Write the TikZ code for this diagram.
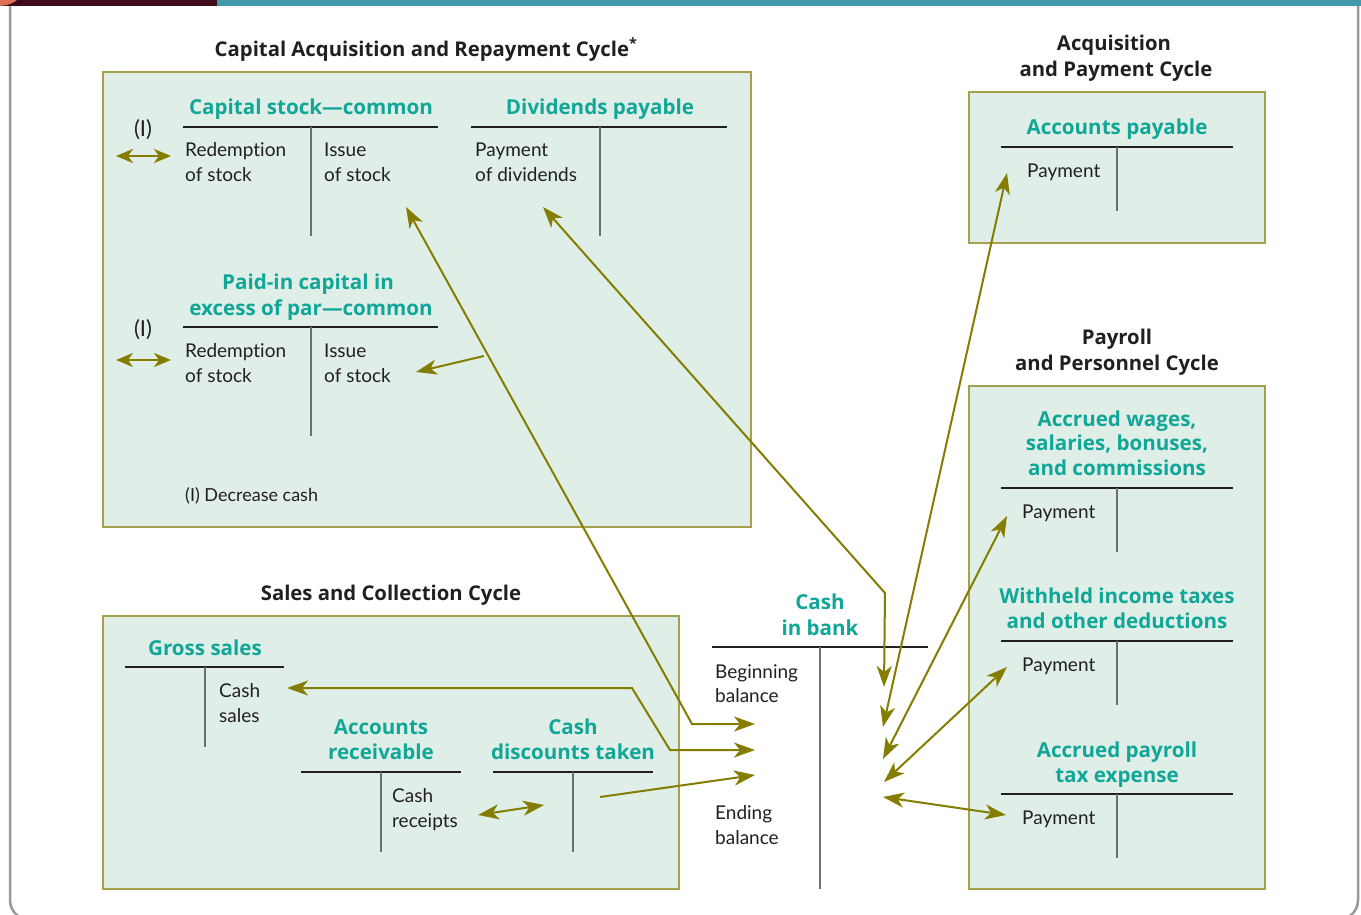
\documentclass[tikz,border=0pt]{standalone}
\usepackage{fontspec}
\setmainfont{Lato}[Ligatures=NoCommon]
\newfontfamily\headfont{Open Sans}[Ligatures=NoCommon]
\usetikzlibrary{arrows.meta}
\definecolor{boxfill}{RGB}{223,239,231}
\definecolor{boxline}{RGB}{166,160,76}
\definecolor{tealtxt}{RGB}{16,166,152}
\definecolor{arrowc}{RGB}{133,125,0}
\definecolor{darktxt}{RGB}{35,31,32}
\definecolor{tgray}{RGB}{109,110,113}
\definecolor{barmaroon}{RGB}{62,11,28}
\definecolor{barteal}{RGB}{66,153,170}
\definecolor{barorange}{RGB}{222,112,82}
\definecolor{framegray}{RGB}{152,152,158}
\tikzset{
  cyc/.style={fill=boxfill, draw=boxline, line width=1.6pt},
  hline/.style={draw=darktxt, line width=2.2pt},
  vline/.style={draw=tgray, line width=2pt},
  ttl/.style={font=\headfont\bfseries\fontsize{20.6}{24}\selectfont, text=tealtxt, anchor=base, inner sep=0pt},
  ctitle/.style={font=\headfont\bfseries\fontsize{20.3}{24}\selectfont, text=darktxt, anchor=base, inner sep=0pt},
  body/.style={font=\fontsize{19}{22}\selectfont, text=darktxt, anchor=base west, inner sep=0pt},
  bodyc/.style={font=\fontsize{22}{24}\selectfont, text=darktxt, anchor=base, inner sep=0pt},
  note/.style={font=\fontsize{18}{20}\selectfont, text=darktxt, anchor=base west, inner sep=0pt},
  flow/.style={draw=arrowc, line width=2pt, line join=miter},
  bigtip/.tip={Stealth[length=21pt,width=15pt,inset=6pt]},
  smalltip/.tip={Stealth[length=17pt,width=14pt,inset=5pt]},
}
\begin{document}
\begin{tikzpicture}[x=1pt,y=-1pt]
\useasboundingbox (0,0) rectangle (1361,914);
\clip (0,0) rectangle (1361,914);
\fill[white] (0,0) rectangle (1361,914);
% frame
\draw[framegray, line width=2.5pt, rounded corners=20pt] (10,0) -- (10,920) -- (1358,920) -- (1358,0);
% top bar
\fill[barmaroon] (0,0) rectangle (217,6);
\fill[barteal] (217,0) rectangle (1361,6);
\begin{scope}
\clip (0,0) rectangle (217,6);
\fill[barorange] (0,-21.5) circle (27.4);
\end{scope}

% cycle boxes
\path[cyc] (103,72) rectangle (751,527);
\path[cyc] (103,616) rectangle (679,889);
\path[cyc] (969,92) rectangle (1265,243);
\path[cyc] (969,386) rectangle (1265,889);

% cycle titles
\node[ctitle] (tcap) at (426,56) {Capital Acquisition and Repayment Cycle\textsuperscript{*}};
\node[ctitle] (tacq1) at (1114,50) {Acquisition};
\node[ctitle] (tacq2) at (1116,76) {and Payment Cycle};
\node[ctitle] (tpay1) at (1117,344) {Payroll};
\node[ctitle] (tpay2) at (1117,370) {and Personnel Cycle};
\node[ctitle] (tsal) at (391,600) {Sales and Collection Cycle};

% T-accounts: lines
\draw[hline] (183,127) -- (438,127);
\draw[vline] (311,127) -- (311,236);
\draw[hline] (471,127) -- (727,127);
\draw[vline] (600,127) -- (600,236);
\draw[hline] (183,327) -- (438,327);
\draw[vline] (311,327) -- (311,436);
\draw[hline] (1001,147) -- (1233,147);
\draw[vline] (1117,147) -- (1117,211);
\draw[hline] (1001,488) -- (1233,488);
\draw[vline] (1117,488) -- (1117,552);
\draw[hline] (1001,641) -- (1233,641);
\draw[vline] (1117,641) -- (1117,705);
\draw[hline] (1001,794) -- (1233,794);
\draw[vline] (1117,794) -- (1117,858);
\draw[hline] (712,647) -- (928,647);
\draw[vline] (820,647) -- (820,889);
\draw[hline] (125,667) -- (284,667);
\draw[vline] (205,667) -- (205,747);
\draw[hline] (301,772) -- (461,772);
\draw[vline] (381,772) -- (381,852);
\draw[hline] (493,772) -- (653,772);
\draw[vline] (573,772) -- (573,852);

% T-account titles
\node[ttl] (csc) at (311,114) {Capital stock—common};
\node[ttl] (dvp) at (600,114) {Dividends payable};
\node[ttl] (pic1) at (308,289) {Paid-in capital in};
\node[ttl] (pic2) at (311,315) {excess of par—common};
\node[ttl] (ap) at (1117,134) {Accounts payable};
\node[ttl] (aw1) at (1117,426) {Accrued wages,};
\node[ttl] (aw2) at (1117,450) {salaries, bonuses,};
\node[ttl] (aw3) at (1117,475) {and commissions};
\node[ttl] (wt1) at (1117,603) {Withheld income taxes};
\node[ttl] (wt2) at (1117,628) {and other deductions};
\node[ttl] (pt1) at (1117,757) {Accrued payroll};
\node[ttl] (pt2) at (1117,782) {tax expense};
\node[ttl] (cb1) at (820,609) {Cash};
\node[ttl] (cb2) at (820,635) {in bank};
\node[ttl] (gs) at (205,655) {Gross sales};
\node[ttl] (ar1) at (381,734) {Accounts};
\node[ttl] (ar2) at (381,759) {receivable};
\node[ttl] (cd1) at (573,734) {Cash};
\node[ttl] (cd2) at (573,759) {discounts taken};

% entries
\node[body] (e1a) at (185,156) {Redemption};
\node[body] (e1b) at (185,181) {of stock};
\node[body] (e2a) at (324,156) {Issue};
\node[body] (e2b) at (324,181) {of stock};
\node[body] (e3a) at (475,156) {Payment};
\node[body] (e3b) at (475,181) {of dividends};
\node[body] (e4a) at (185,357) {Redemption};
\node[body] (e4b) at (185,382) {of stock};
\node[body] (e5a) at (324,357) {Issue};
\node[body] (e5b) at (324,382) {of stock};
\node[bodyc] (i1) at (143,136) {(I)};
\node[bodyc] (i2) at (143,336) {(I)};
\node[note] (dec) at (185,501) {(I) Decrease cash};
\node[body] (p1) at (1027,177) {Payment};
\node[body] (p2) at (1022,518) {Payment};
\node[body] (p3) at (1022,671) {Payment};
\node[body] (p4) at (1022,824) {Payment};
\node[body] (bb1) at (715,678) {Beginning};
\node[body] (bb2) at (715,702) {balance};
\node[body] (eb1) at (715,819) {Ending};
\node[body] (eb2) at (715,844) {balance};
\node[body] (cs1) at (219,697) {Cash};
\node[body] (cs2) at (219,722) {sales};
\node[body] (cr1) at (392,802) {Cash};
\node[body] (cr2) at (392,827) {receipts};

% connector end points
\coordinate (r1l) at (116,156);
\coordinate (r1r) at (171,156);
\coordinate (r2l) at (116,360);
\coordinate (r2r) at (171,360);
\coordinate (csIssue) at (406,207);
\coordinate (bend1) at (692,724);
\coordinate (cash1) at (755,724);
\coordinate (branch) at (484,356);
\coordinate (picIssue) at (416,372);
\coordinate (divPay) at (543,207);
\coordinate (bend2) at (885,593);
\coordinate (cashR1) at (884,687);
\coordinate (apPay) at (1007,173);
\coordinate (cashR2) at (883,727);
\coordinate (awPay) at (1007,516);
\coordinate (cashR3) at (883,759);
\coordinate (wtPay) at (1007,667);
\coordinate (cashR4) at (884,782);
\coordinate (cashR5) at (883,797);
\coordinate (ptPay) at (1006,815);
\coordinate (gsCash) at (287,688);
\coordinate (bend3) at (632,688);
\coordinate (bend4) at (670,750);
\coordinate (cash2) at (755,750);
\coordinate (cdStart) at (600,797);
\coordinate (cash3) at (755,775);
\coordinate (arRec) at (478,815);
\coordinate (cdRec) at (544,805);

% connectors
\draw[flow, {smalltip}-{smalltip}] (r1l) -- (r1r);
\draw[flow, {smalltip}-{smalltip}] (r2l) -- (r2r);
\draw[flow, {bigtip}-{bigtip}] (csIssue) -- (bend1) -- (cash1);
\draw[flow, -{bigtip}] (branch) -- (picIssue);
\draw[flow, {bigtip}-{bigtip}] (divPay) -- (bend2) -- (cashR1);
\draw[flow, {bigtip}-{bigtip}] (apPay) -- (cashR2);
\draw[flow, {bigtip}-{bigtip}] (awPay) -- (cashR3);
\draw[flow, {bigtip}-{bigtip}] (wtPay) -- (cashR4);
\draw[flow, {bigtip}-{bigtip}] (cashR5) -- (ptPay);
\draw[flow, {bigtip}-{bigtip}] (gsCash) -- (bend3) -- (bend4) -- (cash2);
\draw[flow, -{bigtip}] (cdStart) -- (cash3);
\draw[flow, {bigtip}-{bigtip}] (arRec) -- (cdRec);
\end{tikzpicture}
\end{document}
